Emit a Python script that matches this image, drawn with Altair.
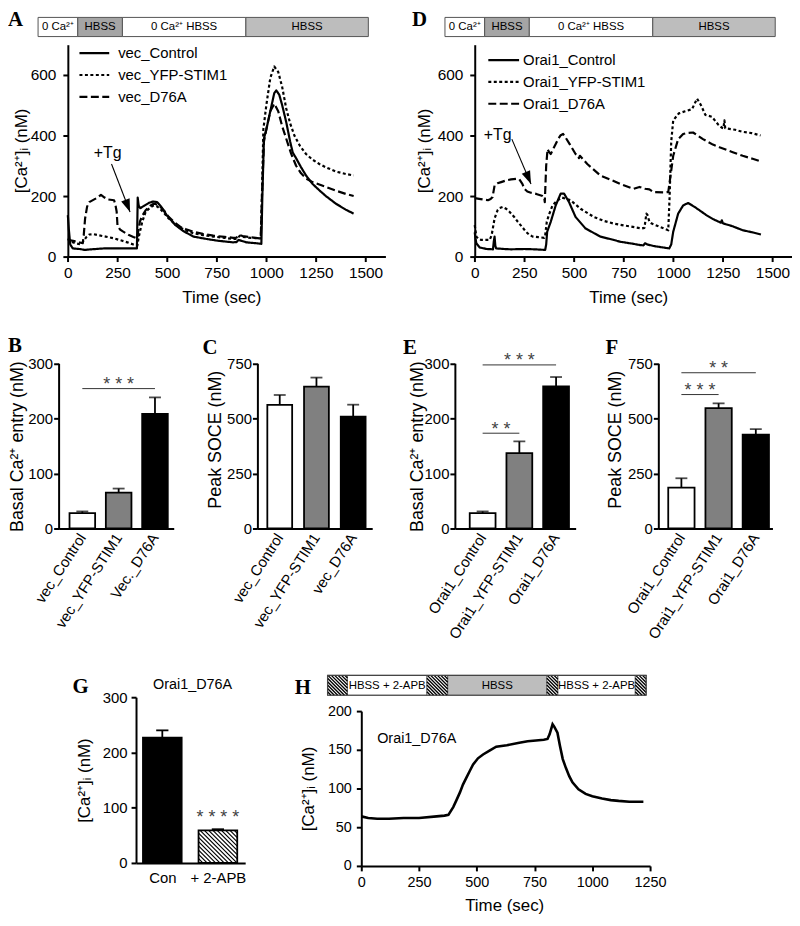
import math
import altair as alt
import pandas as pd

W, H = 790, 910
FONT = "Liberation Sans"
SERIF = "Liberation Serif"


def P(v):
    """page pixel -> chart pixel (the page has an 8px margin)"""
    return v - 8.0


# ------------------------------------------------------------------ data
A_names = ["vec_Control", "vec_YFP-STIM1", "vec_D76A"]
A_ctrl_t = [0, 5, 12, 25, 60, 85, 120, 183, 250, 300, 348, 352, 357, 365, 385, 410, 430, 450, 470, 500,
            540, 580, 633, 700, 760, 833, 850, 860, 875, 900, 950, 975, 980, 988, 1000, 1020, 1040, 1050, 1065, 1080,
            1100, 1120, 1133, 1150, 1175, 1200, 1233, 1267, 1300, 1350, 1400, 1440]
A_ctrl_v = [137, 90, 40, 27, 25, 22, 24, 27, 27, 27, 27, 195, 168, 160, 168, 178, 182, 180, 165, 135,
            105, 85, 66, 58, 52, 47, 48, 55, 52, 47, 44, 42, 200, 390, 420, 480, 540, 549, 535, 500,
            445, 380, 344, 325, 295, 268, 240, 219, 200, 175, 155, 142]
A_yfp_t = [0, 8, 17, 40, 67, 83, 95, 108, 130, 150, 190, 233, 270, 300, 330, 350, 356, 363, 375, 392,
           415, 433, 450, 467, 490, 508, 540, 567, 600, 633, 680, 733, 790, 833, 850, 867, 880, 920, 967, 972,
           978, 985, 1000, 1020, 1040, 1060, 1080, 1100, 1120, 1142, 1170, 1200, 1233, 1267, 1300, 1350, 1400, 1440]
A_yfp_v = [60, 55, 49, 44, 40, 55, 66, 73, 74, 71, 66, 60, 53, 47, 40, 36, 60, 82, 115, 148,
           162, 169, 166, 156, 140, 126, 108, 95, 85, 77, 71, 66, 62, 58, 58, 69, 65, 62, 60, 60,
           200, 420, 500, 590, 628, 610, 560, 490, 440, 399, 365, 339, 320, 306, 295, 281, 273, 268]
A_d76a_t = [0, 33, 75, 80, 87, 97, 108, 133, 150, 167, 185, 200, 233, 240, 246, 250, 262, 275, 308, 330,
            350, 356, 363, 375, 392, 415, 433, 450, 467, 490, 508, 540, 567, 600, 633, 680, 733, 790, 833, 850,
            867, 880, 920, 967, 972, 978, 988, 1000, 1020, 1040, 1060, 1080, 1100, 1125, 1150, 1175, 1200, 1233,
            1267, 1300, 1350, 1400, 1440]
A_d76a_v = [55, 51, 44, 70, 126, 165, 180, 189, 195, 204, 195, 189, 186, 170, 148, 104, 90, 84, 71, 65,
            60, 90, 115, 135, 153, 168, 175, 172, 164, 148, 131, 112, 98, 89, 82, 75, 69, 65, 62, 63,
            71, 68, 64, 60, 60, 200, 380, 420, 480, 505, 480, 430, 390, 340, 300, 275, 258, 246,
            238, 230, 218, 207, 200]

D_names = ["Orai1_Control", "Orai1_YFP-STIM1", "Orai1_D76A"]
D_ctrl_t = [0, 4, 8, 25, 60, 92, 96, 100, 104, 108, 150, 183, 250, 300, 355, 360, 365, 383, 408, 433,
            450, 475, 508, 558, 633, 700, 733, 800, 833, 850, 858, 870, 900, 950, 980, 990, 1000, 1025, 1050, 1075,
            1108, 1167, 1200, 1240, 1245, 1250, 1300, 1350, 1400, 1442]
D_ctrl_v = [80, 60, 44, 30, 25, 24, 50, 66, 35, 27, 25, 24, 25, 24, 22, 40, 82, 115, 169, 208,
            208, 180, 131, 93, 66, 55, 49, 42, 38, 37, 44, 40, 35, 30, 27, 40, 82, 142, 169, 177,
            164, 137, 124, 112, 120, 110, 100, 87, 80, 73]
D_yfp_t = [0, 8, 20, 33, 75, 85, 100, 115, 125, 142, 160, 175, 200, 217, 240, 258, 275, 292, 320, 350,
           355, 363, 375, 392, 415, 440, 483, 533, 600, 650, 700, 760, 842, 855, 865, 870, 880, 892, 933, 975,
           982, 990, 1000, 1028, 1060, 1095, 1120, 1140, 1162, 1195, 1228, 1245, 1253, 1258, 1262, 1312, 1350,
           1395, 1440]
D_yfp_v = [104, 66, 58, 55, 55, 70, 126, 153, 160, 164, 157, 148, 130, 115, 97, 82, 72, 66, 64, 62,
           70, 115, 140, 169, 185, 195, 186, 158, 131, 118, 109, 102, 93, 95, 142, 138, 115, 109, 98, 87,
           200, 380, 450, 473, 480, 487, 522, 500, 468, 462, 435, 426, 424, 450, 424, 419, 412,
           408, 400]
D_d76a_t = [0, 30, 67, 80, 90, 100, 115, 133, 160, 183, 210, 225, 240, 250, 265, 283, 310, 342, 350, 353,
            360, 367, 375, 383, 395, 408, 420, 433, 445, 458, 480, 508, 520, 525, 530, 567, 633, 700, 733, 800,
            830, 858, 880, 900, 950, 975, 985, 1000, 1025, 1050, 1067, 1100, 1150, 1200, 1233, 1300, 1350,
            1400, 1442]
D_d76a_v = [193, 190, 186, 190, 197, 235, 242, 246, 252, 255, 257, 255, 240, 224, 215, 211, 207, 200, 196, 180,
            300, 355, 345, 339, 355, 372, 388, 401, 405, 393, 370, 339, 335, 325, 333, 306, 268, 250, 240, 224,
            230, 224, 222, 213, 212, 213, 260, 333, 388, 405, 408, 410, 388, 370, 361, 345, 333,
            323, 314]

H_t = [0, 30, 69, 120, 183, 250, 326, 360, 377, 398, 412, 427, 440, 455, 470, 484, 505, 527, 555, 584,
       630, 684, 720, 756, 790, 806, 815, 822, 828, 835, 849, 860, 872, 885, 900, 914, 940, 971, 1000, 1042,
       1080, 1114, 1160, 1221]
H_v = [64, 62, 61, 61, 62, 62, 64, 65, 66, 76, 85, 95, 105, 114, 123, 131, 139, 144, 149, 154,
       156, 159, 161, 162, 163, 164, 170, 177, 183, 180, 172, 155, 138, 127, 116, 108, 99, 93, 90, 87,
       85, 84, 83, 83]

# perfusion protocol (sec)
AD_stim_edges = [-150, 50, 275, 897, 1514]
AD_stim_labels = ["0 Ca²⁺", "HBSS", "0 Ca²⁺ HBSS", "HBSS"]
H_stim_edges = [-146, -60, 284, 374, 803, 851, 1186, 1233]
H_stim_labels = ["", "HBSS + 2-APB", "", "HBSS", "", "HBSS + 2-APB", ""]

# bar panels
B_cats = ["vec_Control", "vec_YFP-STIM1", "Vec._D76A"]
B_mean = [28, 65, 208]
B_sem = [3, 7.5, 30]
C_cats = ["vec_Control", "vec_YFP-STIM1", "vec_D76A"]
C_mean = [561, 644, 508]
C_sem = [45, 41, 54]
E_cats = ["Orai1_Control", "Orai1_YFP-STIM1", "Orai1_D76A"]
E_mean = [28, 137, 258]
E_sem = [3, 21, 17]
F_cats = ["Orai1_Control", "Orai1_YFP-STIM1", "Orai1_D76A"]
F_mean = [186, 546, 426]
F_sem = [42, 22, 25]
G_cats = ["Con", "+ 2-APB"]
G_mean = [227, 59]
G_sem = [13, 2]

B_sig = [("vec_Control", "Vec._D76A", 254, "***")]
C_sig = []
E_sig = [("Orai1_Control", "Orai1_D76A", 297, "***"), ("Orai1_Control", "Orai1_YFP-STIM1", 173, "**")]
F_sig = [("Orai1_Control", "Orai1_D76A", 707, "**"), ("Orai1_Control", "Orai1_YFP-STIM1", 608, "***")]
G_sig = "****"

# annotation "+Tg": text (t, v), arrow start (t, v), arrow tip (t, v)
A_tg = [(201, 325), (220, 306), (313.5, 147.5)]
D_tg = [(116, 384), (187, 388), (283.5, 240)]

# ------------------------------------------------------------------ styles
DASHES = [[1, 0], [3, 2.5], [8, 3.5]]
BAR_FILLS = ["white", "#808080", "black"]
AD_STIM_FILLS = ["white", "#a5a5a5", "white", "#bdbdbd"]
H_STIM_KIND = ["hatch", "plain", "hatch", "gray", "hatch", "plain", "hatch"]
ARROW = "M0,0L0.7,2L-0.7,2Z"
CA_TITLE = "[Ca²⁺]ᵢ (nM)"
STAR_SIZE = 18
STAR_COLOR = "#444444"

ONE = pd.DataFrame({"k": [0]})


def axis(orient, at, **kw):
    d = dict(orient=orient, grid=False, domainColor="black", domainWidth=2,
             tickColor="black", tickWidth=2, tickSize=5, labelFont=FONT,
             labelFontSize=15, labelColor="black", labelPadding=3, labelFlush=False,
             titleFont=FONT, titleFontSize=17, titleFontWeight="normal",
             titleColor="black", titleAlign="center", titleBaseline="middle")
    if orient == "left":
        d.update(offset=-at, titleAngle=270)
    else:
        d.update(offset=at - H, titleAngle=0)
    d.update(kw)
    return alt.Axis(**d)


def hatch(w, h, spacing):
    out = []
    s = -h
    while s < w:
        a = max(0.0, -s)
        b = min(h, w - s)
        if b > a:
            out.append((s + a, a, s + b, b))
        s += spacing
    return out


def angle_of(p0, p1, kx, ky):
    dx = (p1[0] - p0[0]) * kx
    dy = -(p1[1] - p0[1]) * ky
    return math.degrees(math.atan2(dx, -dy)) % 360


def trace_panel(names, ts, vs, ax_x, ytitle_x, xtitle_x, leg, tg):
    xs = alt.Scale(domain=[0, 1600], range=[P(ax_x), P(ax_x + 320)])
    ys = alt.Scale(domain=[0, 700], range=[P(255), P(255 - 213.5)])
    xa = axis("bottom", P(255), values=list(range(0, 1501, 250)), format="d", title="Time (sec)",
              titleX=P(xtitle_x), titleY=41, labelPadding=4, labelFontSize=15.5)
    ya = axis("left", P(ax_x), values=[0, 200, 400, 600], title=CA_TITLE,
              titleX=ytitle_x - ax_x, titleY=P(148), labelPadding=7, labelFontSize=15.5)
    X = lambda f: alt.X(f, scale=xs, axis=xa)
    Y = lambda f: alt.Y(f, scale=ys, axis=ya)

    rows = [dict(t=t, v=v, s=n) for n, tt, vv in zip(names, ts, vs) for t, v in zip(tt, vv)]
    lines = alt.Chart(pd.DataFrame(rows)).mark_line(color="black", strokeWidth=2.2, strokeJoin="round").encode(
        x=X("t:Q"), y=Y("v:Q"),
        strokeDash=alt.StrokeDash("s:N", scale=alt.Scale(domain=names, range=DASHES), legend=None),
    )
    e = AD_stim_edges
    sdf = pd.DataFrame({"t0": e[:-1], "t1": e[1:], "lab": AD_stim_labels, "fill": AD_STIM_FILLS})
    sdf["tm"] = (sdf["t0"] + sdf["t1"]) / 2
    stim = alt.Chart(sdf).mark_rect(stroke="#555555", strokeWidth=1).encode(
        x=X("t0:Q"), x2="t1:Q", y=alt.value(P(14)), y2=alt.value(P(33.3)),
        fill=alt.Fill("fill:N", scale=None))
    stim_txt = alt.Chart(sdf).mark_text(font=FONT, fontSize=11.5, color="black", baseline="middle").encode(
        x=X("tm:Q"), y=alt.value(P(24)), text="lab:N")
    layers = [stim, stim_txt, lines]
    lx0, lx1, ltx, ly0 = leg
    for i, n in enumerate(names):
        yy = P(ly0 + 22 * i)
        layers.append(alt.Chart(ONE).mark_rule(color="black", strokeWidth=2.2, strokeDash=DASHES[i]).encode(
            x=alt.value(P(lx0)), x2=alt.value(P(lx1)), y=alt.value(yy)))
        layers.append(alt.Chart(ONE).mark_text(text=n, align="left", baseline="middle", font=FONT,
                                               fontSize=15, color="black").encode(
            x=alt.value(P(ltx)), y=alt.value(yy)))
    (tx, tv), (sx, sv), (hx, hv) = tg
    ang = angle_of((sx, sv), (hx, hv), 0.2, 0.305)
    layers.append(alt.Chart(pd.DataFrame({"t": [tx], "v": [tv]})).mark_text(
        text="+Tg", font=FONT, fontSize=16, color="black", baseline="alphabetic").encode(
        x=X("t:Q"), y=Y("v:Q")))
    layers.append(alt.Chart(pd.DataFrame({"t": [sx], "v": [sv], "t2": [hx], "v2": [hv]})).mark_rule(
        color="black", strokeWidth=1.1).encode(x=X("t:Q"), y=Y("v:Q"), x2="t2:Q", y2="v2:Q"))
    layers.append(alt.Chart(pd.DataFrame({"t": [hx], "v": [hv]})).mark_point(
        shape=ARROW, size=169, filled=True, color="black", opacity=1, angle=ang, strokeWidth=0).encode(
        x=X("t:Q"), y=Y("v:Q")))
    return alt.layer(*layers)


def bar_panel(cats, means, sems, ax_x, ax_end, pin, pout, align, ydom, yvals, ytitle, ytitle_x, ytitle_y, sigs):
    xs = alt.Scale(domain=cats, range=[P(ax_x), P(ax_end)], paddingInner=pin, paddingOuter=pout, align=align)
    ys = alt.Scale(domain=ydom, range=[P(529), P(362.5)])
    xa = axis("bottom", P(529), ticks=False, tickSize=0, labelAngle=303, labelPadding=6, title=None)
    ya = axis("left", P(ax_x), values=yvals, title=ytitle, titleX=ytitle_x - ax_x, titleY=P(ytitle_y),
              titleFontSize=18, labelPadding=1)
    X = lambda f: alt.X(f, scale=xs, axis=xa)
    Y = lambda f: alt.Y(f, scale=ys, axis=ya)
    n = len(cats)
    step = (ax_end - ax_x) / (n - pin + 2 * pout)
    df = pd.DataFrame({"c": cats, "m": means, "top": [m + s for m, s in zip(means, sems)], "fill": BAR_FILLS})
    bars = alt.Chart(df).mark_bar(stroke="black", strokeWidth=1.8).encode(
        x=X("c:N"), y=Y("m:Q"), fill=alt.Fill("fill:N", scale=None))
    err = alt.Chart(df).mark_rule(color="black", strokeWidth=1.8).encode(x=X("c:N"), y=Y("m:Q"), y2="top:Q")
    cap = alt.Chart(df).mark_tick(color="black", thickness=1.8, size=12).encode(x=X("c:N"), y=Y("top:Q"))
    layers = [err, cap, bars]
    for a, b, yv, stars in sigs:
        ia, ib = cats.index(a), cats.index(b)
        sd = pd.DataFrame({"a": [a], "b": [b], "y": [yv], "s": [" ".join(stars)]})
        layers.append(alt.Chart(sd).mark_rule(color="#333333", strokeWidth=1).encode(
            x=X("a:N"), x2="b:N", y=Y("y:Q")))
        layers.append(alt.Chart(sd).mark_text(font=FONT, fontSize=STAR_SIZE, color=STAR_COLOR,
                                              baseline="alphabetic", dx=(ib - ia) * step / 2, dy=1.5).encode(
            x=X("a:N"), y=Y("y:Q"), text="s:N"))
    return alt.layer(*layers)


def g_panel():
    xs = alt.Scale(domain=[-0.473, 1.491], range=[P(137), P(247)])
    ys = alt.Scale(domain=[0, 300], range=[P(866), P(699)])
    kx, ky = 110 / 1.964, 167 / 300
    pos = list(range(len(G_cats)))
    label_expr = "datum.value == 0 ? '%s' : '%s'" % (G_cats[0], G_cats[1])
    xa = axis("bottom", P(866), values=pos, labelExpr=label_expr, ticks=False, tickSize=0, labelPadding=8,
              title=None)
    ya = axis("left", P(137), values=[0, 100, 200, 300], title=CA_TITLE, titleX=85 - 137,
              titleY=P(782.5), labelPadding=4)
    X = lambda f: alt.X(f, scale=xs, axis=xa)
    Y = lambda f: alt.Y(f, scale=ys, axis=ya)
    half = 0.348
    df = pd.DataFrame({"pos": pos, "x0": [p - half for p in pos], "x1": [p + half for p in pos],
                       "c0": [p - 0.11 for p in pos], "c1": [p + 0.11 for p in pos],
                       "m": G_mean, "top": [m + s for m, s in zip(G_mean, G_sem)],
                       "zero": [0] * len(pos), "fill": ["black", "white"]})
    bars = alt.Chart(df).mark_rect().encode(
        x=X("x0:Q"), x2="x1:Q", y=Y("zero:Q"), y2="m:Q", fill=alt.Fill("fill:N", scale=None))
    x0 = 1 - half
    top = G_mean[1]
    rows = []
    for u0, v0, u1, v1 in hatch(2 * half * kx, top * ky, 4.3):
        rows.append(dict(x0=x0 + u0 / kx, x1=x0 + u1 / kx, y0=top - v0 / ky, y1=top - v1 / ky))
    hat = alt.Chart(pd.DataFrame(rows)).mark_rule(color="black", strokeWidth=1.2).encode(
        x=X("x0:Q"), x2="x1:Q", y=Y("y0:Q"), y2="y1:Q")
    outline = alt.Chart(df).mark_rect(fillOpacity=0, stroke="black", strokeWidth=1.8).encode(
        x=X("x0:Q"), x2="x1:Q", y=Y("zero:Q"), y2="m:Q")
    err = alt.Chart(df).mark_rule(color="black", strokeWidth=1.8).encode(x=X("pos:Q"), y=Y("m:Q"), y2="top:Q")
    cap = alt.Chart(df).mark_rule(color="black", strokeWidth=1.8).encode(x=X("c0:Q"), x2="c1:Q", y=Y("top:Q"))
    sd = df[df["pos"] == 1].assign(s=" ".join(G_sig))
    stars = alt.Chart(sd).mark_text(font=FONT, fontSize=STAR_SIZE, color=STAR_COLOR, baseline="alphabetic",
                                    dy=-6).encode(x=X("pos:Q"), y=Y("top:Q"), text="s:N")
    ttl = alt.Chart(ONE).mark_text(text="Orai1_D76A", font=FONT, fontSize=14.5, color="black",
                                   baseline="middle").encode(x=alt.value(P(194)), y=alt.value(P(687)))
    return alt.layer(bars, hat, outline, err, cap, stars, ttl)


def h_panel():
    xs = alt.Scale(domain=[0, 1250], range=[P(364), P(655)])
    ys = alt.Scale(domain=[0, 200], range=[P(869), P(713)])
    kx = 291 / 1250
    xa = axis("bottom", P(869), values=list(range(0, 1251, 250)), format="d", title="Time (sec)",
              titleX=P(508), titleY=40, labelPadding=5, labelFontSize=14.5)
    ya = axis("left", P(364), values=[0, 50, 100, 150, 200], title=CA_TITLE, titleX=311 - 364,
              titleY=P(791), labelPadding=5, labelFontSize=14.5)
    X = lambda f: alt.X(f, scale=xs, axis=xa)
    Y = lambda f: alt.Y(f, scale=ys, axis=ya)
    line = alt.Chart(pd.DataFrame({"t": H_t, "v": H_v})).mark_line(color="black", strokeWidth=2.6).encode(
        x=X("t:Q"), y=Y("v:Q"))
    e = H_stim_edges
    segs = pd.DataFrame({"t0": e[:-1], "t1": e[1:], "lab": H_stim_labels, "kind": H_STIM_KIND})
    segs["fill"] = segs["kind"].map({"hatch": "white", "plain": "white", "gray": "#bdbdbd"})
    segs["tm"] = (segs["t0"] + segs["t1"]) / 2
    ytop, ybot = P(677), P(697)
    rect = alt.Chart(segs).mark_rect(stroke="#555555", strokeWidth=0.8).encode(
        x=X("t0:Q"), x2="t1:Q", y=alt.value(ytop), y2=alt.value(ybot), fill=alt.Fill("fill:N", scale=None))
    rows = []
    for _, r in segs[segs["kind"] == "hatch"].iterrows():
        for u0, v0, u1, v1 in hatch((r["t1"] - r["t0"]) * kx, ybot - ytop, 3.4):
            rows.append(dict(x0=r["t0"] + u0 / kx, x1=r["t0"] + u1 / kx, y0=ytop + v0, y1=ytop + v1))
    hat = alt.Chart(pd.DataFrame(rows)).mark_rule(color="black", strokeWidth=1.4).encode(
        x=X("x0:Q"), x2="x1:Q", y=alt.Y("y0:Q", scale=None), y2="y1:Q")
    outline = alt.Chart(pd.DataFrame({"t0": [e[0]], "t1": [e[-1]]})).mark_rect(
        fillOpacity=0, stroke="#444444", strokeWidth=1.2).encode(
        x=X("t0:Q"), x2="t1:Q", y=alt.value(ytop), y2=alt.value(ybot))
    txt = alt.Chart(segs[segs["lab"] != ""]).mark_text(font=FONT, fontSize=11.5, color="black",
                                                        baseline="middle").encode(
        x=X("tm:Q"), y=alt.value((ytop + ybot) / 2 + 0.5), text="lab:N")
    lab = alt.Chart(ONE).mark_text(text="Orai1_D76A", font=FONT, fontSize=14.5, color="black", align="left",
                                   baseline="middle").encode(x=alt.value(P(380)), y=alt.value(P(741)))
    return alt.layer(rect, hat, outline, txt, line, lab)


panels = [
    trace_panel(A_names, [A_ctrl_t, A_yfp_t, A_d76a_t], [A_ctrl_v, A_yfp_v, A_d76a_v],
                68.3, 22, 223, (80, 110, 119, 50), A_tg),
    trace_panel(D_names, [D_ctrl_t, D_yfp_t, D_d76a_t], [D_ctrl_v, D_yfp_v, D_d76a_v],
                478.3, 428, 633, (492, 523, 527, 57), D_tg),
    bar_panel(B_cats, B_mean, B_sem, 59, 175, 0.295, 0.232, 0.647, [0, 300], [0, 100, 200, 300],
              "Basal Ca²⁺ entry (nM)", 18, 446, B_sig),
    bar_panel(C_cats, C_mean, C_sem, 259.3, 375, 0.324, 0.2255, 0.6, [0, 750], [0, 250, 500, 750],
              "Peak SOCE (nM)", 217, 439, C_sig),
    bar_panel(E_cats, E_mean, E_sem, 458.3, 580, 0.297, 0.293, 0.69, [0, 300], [0, 100, 200, 300],
              "Basal Ca²⁺ entry (nM)", 421, 446, E_sig),
    bar_panel(F_cats, F_mean, F_sem, 663.3, 778.3, 0.293, 0.18, 0.74, [0, 750], [0, 250, 500, 750],
              "Peak SOCE (nM)", 620, 439, F_sig),
    g_panel(),
    h_panel(),
]

letters = [("A", 8, 23), ("D", 415, 23), ("B", 8, 351), ("C", 204, 353),
           ("E", 406, 353), ("F", 610, 353), ("G", 73, 695), ("H", 297, 696)]
letter_layers = [
    alt.Chart(ONE).mark_text(text=t, font=SERIF, fontWeight="bold", fontSize=21, color="black",
                             align="left", baseline="alphabetic").encode(x=alt.value(P(x)), y=alt.value(P(y)))
    for t, x, y in letters
]

chart = alt.layer(*panels, *letter_layers).resolve_scale(
    x="independent", y="independent", strokeDash="independent"
).properties(
    width=W, height=H, padding=0, autosize=alt.AutoSizeParams(type="none"), background="white"
).configure_view(stroke=None)

chart.save("out.html", embed_options={"renderer": "svg", "actions": False})
